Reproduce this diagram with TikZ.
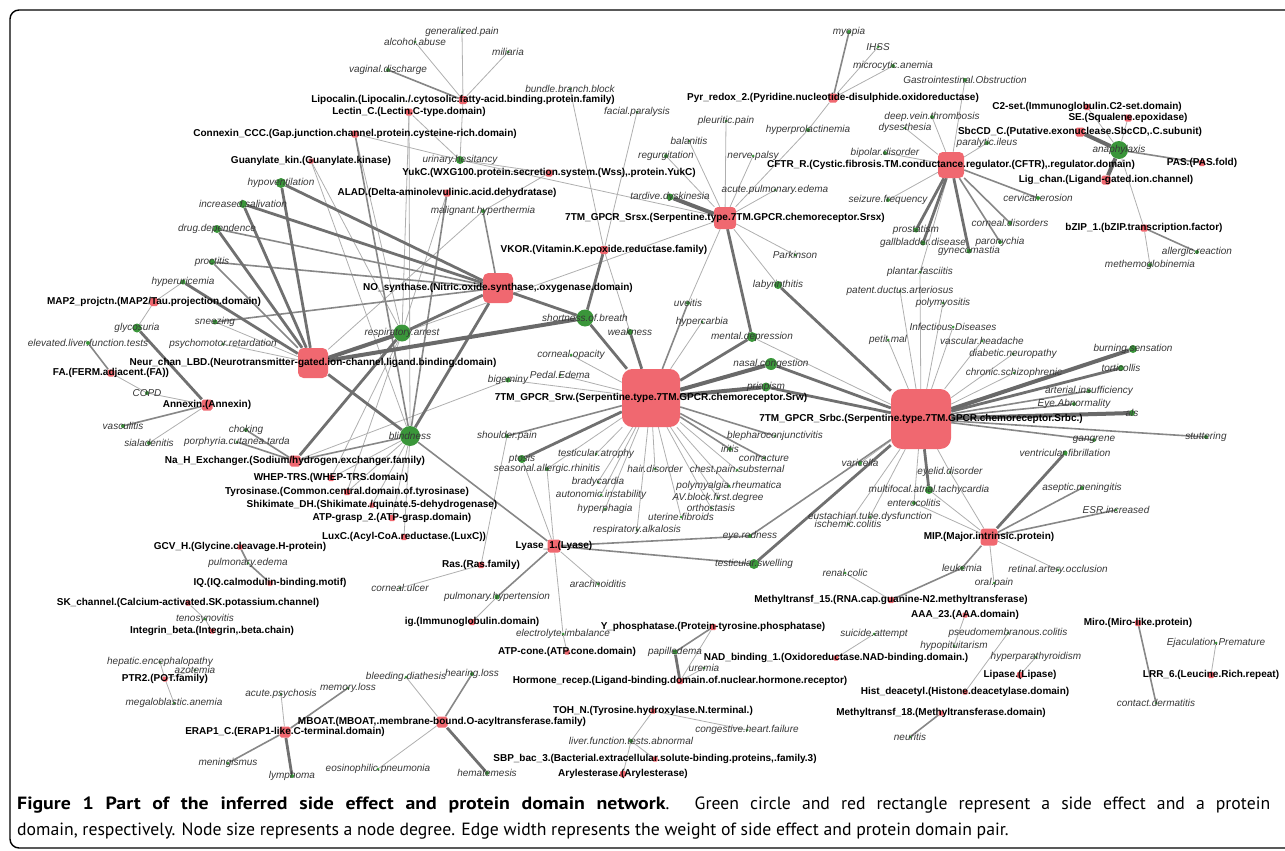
\documentclass[tikz,border=0pt]{standalone}
\usepackage{fontspec}
\setmainfont{Liberation Sans}
\newfontfamily\capfont{PT Sans}
\usetikzlibrary{backgrounds}
\definecolor{segreen}{RGB}{58,150,58}
\definecolor{pdred}{RGB}{240,104,112}
\definecolor{setext}{RGB}{55,55,55}
\definecolor{edgeA}{RGB}{175,175,175}
\definecolor{edgeB}{RGB}{135,135,135}
\definecolor{edgeC}{RGB}{112,112,112}
\definecolor{edgeD}{RGB}{105,105,105}

\begin{document}
\begin{tikzpicture}[x=1pt,y=-1pt,
    sel/.style={font=\fontsize{10}{12}\selectfont\itshape,text=setext,inner sep=0pt},
    pdl/.style={font=\fontsize{10}{12}\selectfont\bfseries,text=black,inner sep=0pt},
    sefx/.style 2 args={circle,fill=segreen,inner sep=0pt,minimum size=#1,label={[sel]center:#2}},
    prot/.style 2 args={rectangle,rounded corners=#1*0.18pt,fill=pdred,inner sep=0pt,minimum size=#1,label={[pdl]center:#2}},
    w1/.style={draw=edgeA,line width=0.8pt},
    w2/.style={draw=edgeB,line width=1.6pt},
    w3/.style={draw=edgeC,line width=2.8pt},
    w4/.style={draw=edgeD,line width=4pt}]
\useasboundingbox (0,0) rectangle (1285,851);
\draw[line width=1.4pt,rounded corners=9pt] (1300,10) -- (10,10) -- (10,848) -- (1300,848);

% protein domains
\node[prot={8}{Lipocalin.(Lipocalin./.cytosolic.fatty-acid.binding.protein.family)}] (lipo) at (463,100) {};
\node[prot={7}{Lectin\_C.(Lectin.C-type.domain)}] (lect) at (409,112) {};
\node[prot={7}{Connexin\_CCC.(Gap.junction.channel.protein.cysteine-rich.domain)}] (conx) at (355,134) {};
\node[prot={5}{Guanylate\_kin.(Guanylate.kinase)}] (guan) at (311,161) {};
\node[prot={7}{YukC.(WXG100.protein.secretion.system.(Wss),.protein.YukC)}] (yukc) at (549,173) {};
\node[prot={7}{ALAD.(Delta-aminolevulinic.acid.dehydratase)}] (alad) at (447,193) {};
\node[prot={22}{7TM\_GPCR\_Srsx.(Serpentine.type.7TM.GPCR.chemoreceptor.Srsx)}] (srsx) at (725,218) {};
\node[prot={8}{VKOR.(Vitamin.K.epoxide.reductase.family)}] (vkor) at (604,250) {};
\node[prot={9}{Pyr\_redox\_2.(Pyridine.nucleotide-disulphide.oxidoreductase)}] (pyr) at (833,98) {};
\node[prot={26}{CFTR\_R.(Cystic.fibrosis.TM.conductance.regulator.(CFTR),.regulator.domain)}] (cftr) at (951,165) {};
\node[prot={6}{C2-set.(Immunoglobulin.C2-set.domain)}] (c2set) at (1087,107) {};
\node[prot={7}{SE.(Squalene.epoxidase)}] (sqe) at (1128,118) {};
\node[prot={9}{SbcCD\_C.(Putative.exonuclease.SbcCD,.C.subunit)}] (sbcd) at (1080,132) {};
\node[prot={6}{PAS.(PAS.fold)}] (pas) at (1202,163) {};
\node[prot={9}{Lig\_chan.(Ligand-gated.ion.channel)}] (ligc) at (1106,180) {};
\node[prot={7}{bZIP\_1.(bZIP.transcription.factor)}] (bzip) at (1144,228) {};
\node[prot={30}{NO\_synthase.(Nitric.oxide.synthase,.oxygenase.domain)}] (nos) at (498,288) {};
\node[prot={8}{MAP2\_projctn.(MAP2/Tau.projection.domain)}] (map2) at (154,302) {};
\node[prot={30}{Neur\_chan\_LBD.(Neurotransmitter-gated.ion-channel.ligand.binding.domain)}] (neur) at (313,363) {};
\node[prot={7}{FA.(FERM.adjacent.(FA))}] (fa) at (111,373) {};
\node[prot={11}{Annexin.(Annexin)}] (anx) at (207,405) {};
\node[prot={11}{Na\_H\_Exchanger.(Sodium/hydrogen.exchanger.family)}] (nah) at (295,461) {};
\node[prot={6}{WHEP-TRS.(WHEP-TRS.domain)}] (whep) at (331,478) {};
\node[prot={6}{Tyrosinase.(Common.central.domain.of.tyrosinase)}] (tyr) at (347,492) {};
\node[prot={5}{Shikimate\_DH.(Shikimate./quinate.5-dehydrogenase)}] (shik) at (372,505) {};
\node[prot={6}{ATP-grasp\_2.(ATP-grasp.domain)}] (atpg) at (392,518) {};
\node[prot={6}{LuxC.(Acyl-CoA.reductase.(LuxC))}] (luxc) at (404,537) {};
\node[prot={5}{GCV\_H.(Glycine.cleavage.H-protein)}] (gcvh) at (240,547) {};
\node[prot={58}{7TM\_GPCR\_Srw.(Serpentine.type.7TM.GPCR.chemoreceptor.Srw)}] (srw) at (651,398) {};
\node[prot={60}{7TM\_GPCR\_Srbc.(Serpentine.type.7TM.GPCR.chemoreceptor.Srbc.)}] (srbc) at (921,419) {};
\node[prot={13}{Lyase\_1.(Lyase)}] (lyase) at (554,546) {};
\node[prot={17}{MIP.(Major.intrinsic.protein)}] (mip) at (989,537) {};
\node[prot={6}{Ras.(Ras.family)}] (ras) at (481,565) {};
\node[prot={5}{IQ.(IQ.calmodulin-binding.motif)}] (iq) at (270,583) {};
\node[prot={5}{SK\_channel.(Calcium-activated.SK.potassium.channel)}] (skc) at (188,603) {};
\node[prot={5}{Integrin\_beta.(Integrin,.beta.chain)}] (intb) at (212,631) {};
\node[prot={6}{ig.(Immunoglobulin.domain)}] (ig) at (472,622) {};
\node[prot={6}{Y\_phosphatase.(Protein-tyrosine.phosphatase)}] (yph) at (713,627) {};
\node[prot={5}{ATP-cone.(ATP.cone.domain)}] (atpc) at (567,652) {};
\node[prot={5}{NAD\_binding\_1.(Oxidoreductase.NAD-binding.domain.)}] (nad) at (836,658) {};
\node[prot={6}{Hormone\_recep.(Ligand-binding.domain.of.nuclear.hormone.receptor)}] (horm) at (680,681) {};
\node[prot={6}{Methyltransf\_15.(RNA.cap.guanine-N2.methyltransferase)}] (mtf15) at (891,600) {};
\node[prot={5}{AAA\_23.(AAA.domain)}] (aaa) at (965,615) {};
\node[prot={5}{PTR2.(POT.family)}] (ptr2) at (165,679) {};
\node[prot={11}{MBOAT.(MBOAT,.membrane-bound.O-acyltransferase.family)}] (mboat) at (442,722) {};
\node[prot={11}{ERAP1\_C.(ERAP1-like.C-terminal.domain)}] (erap) at (285,732) {};
\node[prot={5}{TOH\_N.(Tyrosine.hydroxylase.N.terminal.)}] (toh) at (653,711) {};
\node[prot={5}{SBP\_bac\_3.(Bacterial.extracellular.solute-binding.proteins,.family.3)}] (sbp) at (655,759) {};
\node[prot={6}{Arylesterase.(Arylesterase)}] (aryl) at (623,774) {};
\node[prot={5}{Hist\_deacetyl.(Histone.deacetylase.domain)}] (hist) at (965,692) {};
\node[prot={6}{Lipase.(Lipase)}] (lipa) at (1020,675) {};
\node[prot={5}{Methyltransf\_18.(Methyltransferase.domain)}] (mtf18) at (941,713) {};
\node[prot={6}{Miro.(Miro-like.protein)}] (miro) at (1138,623) {};
\node[prot={6}{LRR\_6.(Leucine.Rich.repeat)}] (lrr) at (1211,675) {};

% side effects
\node[sefx={3}{generalized.pain}] (gpain) at (462,32) {};
\node[sefx={3}{alcohol.abuse}] (alco) at (415,42) {};
\node[sefx={3}{miliaria}] (mili) at (508,52) {};
\node[sefx={4}{vaginal.discharge}] (vagd) at (388,70) {};
\node[sefx={3}{bundle.branch.block}] (bbb) at (570,89) {};
\node[sefx={3}{facial.paralysis}] (facp) at (637,112) {};
\node[sefx={8}{urinary.hesitancy}] (urin) at (460,160) {};
\node[sefx={4}{malignant.hyperthermia}] (malh) at (483,211) {};
\node[sefx={4}{myopia}] (myop) at (849,32) {};
\node[sefx={3}{IHSS}] (ihss) at (878,47) {};
\node[sefx={4}{microcytic.anemia}] (mcan) at (893,66) {};
\node[sefx={4}{Gastrointestinal.Obstruction}] (gio) at (965,80) {};
\node[sefx={3}{pleuritic.pain}] (pleu) at (726,121) {};
\node[sefx={4}{hyperprolactinemia}] (hprl) at (808,130) {};
\node[sefx={3}{balanitis}] (bala) at (689,141) {};
\node[sefx={4}{regurgitation}] (regu) at (666,156) {};
\node[sefx={3}{nerve.palsy}] (nerv) at (753,156) {};
\node[sefx={4}{deep.vein.thrombosis}] (dvt) at (932,117) {};
\node[sefx={3}{dysesthesia}] (dyse) at (905,128) {};
\node[sefx={4}{bipolar.disorder}] (bipo) at (885,153) {};
\node[sefx={3}{acute.pulmonary.edema}] (apule) at (775,190) {};
\node[sefx={7}{tardive.dyskinesia}] (tard) at (670,197) {};
\node[sefx={4}{seizure.frequency}] (seiz) at (888,200) {};
\node[sefx={3}{Parkinson}] (park) at (795,255) {};
\node[sefx={5}{prostatism}] (prost) at (916,230) {};
\node[sefx={5}{gallbladder.disease}] (gall) at (923,243) {};
\node[sefx={3}{plantar.fasciitis}] (plan) at (920,272) {};
\node[sefx={4}{paralytic.ileus}] (para) at (987,143) {};
\node[sefx={18}{anaphylaxis}] (anap) at (1119,150) {};
\node[sefx={4}{cervical.erosion}] (cerv) at (1038,198) {};
\node[sefx={4}{corneal.disorders}] (corn) at (1010,223) {};
\node[sefx={4}{paronychia}] (paro) at (1000,242) {};
\node[sefx={5}{gynecomastia}] (gyne) at (969,251) {};
\node[sefx={4}{allergic.reaction}] (allr) at (1197,252) {};
\node[sefx={4}{methemoglobinemia}] (meth) at (1150,265) {};
\node[sefx={10}{hypoventilation}] (hypv) at (281,183) {};
\node[sefx={8}{increased.salivation}] (sali) at (243,204) {};
\node[sefx={8}{drug.dependence}] (drug) at (217,229) {};
\node[sefx={6}{proctitis}] (proc) at (212,262) {};
\node[sefx={5}{hyperuricemia}] (huri) at (183,282) {};
\node[sefx={5}{sneezing}] (snee) at (215,322) {};
\node[sefx={9}{glycosuria}] (glyc) at (137,328) {};
\node[sefx={4}{elevated.liver.function.tests}] (elft) at (88,343) {};
\node[sefx={3}{psychomotor.retardation}] (psyr) at (223,344) {};
\node[sefx={4}{COPD}] (copd) at (147,393) {};
\node[sefx={4}{vasculitis}] (vasc) at (123,426) {};
\node[sefx={4}{choking}] (chok) at (246,430) {};
\node[sefx={4}{sialadenitis}] (sial) at (149,443) {};
\node[sefx={3}{porphyria.cutanea.tarda}] (porp) at (237,442) {};
\node[sefx={17}{respiratory.arrest}] (resp) at (402,333) {};
\node[sefx={17}{shortness.of.breath}] (sob) at (585,318) {};
\node[sefx={6}{weakness}] (weak) at (630,332) {};
\node[sefx={3}{corneal.opacity}] (copa) at (571,355) {};
\node[sefx={3}{Pedal.Edema}] (pede) at (560,375) {};
\node[sefx={5}{bigeminy}] (bige) at (508,380) {};
\node[sefx={20}{blindness}] (blind) at (410,436) {};
\node[sefx={4}{shoulder.pain}] (shou) at (507,436) {};
\node[sefx={8}{ptosis}] (ptos) at (522,459) {};
\node[sefx={4}{seasonal.allergic.rhinitis}] (sear) at (547,469) {};
\node[sefx={3}{testicular.atrophy}] (tatr) at (596,454) {};
\node[sefx={3}{hair.disorder}] (hair) at (655,469) {};
\node[sefx={3}{bradycardia}] (brad) at (598,482) {};
\node[sefx={3}{autonomic.instability}] (auto) at (601,495) {};
\node[sefx={3}{hyperphagia}] (hphg) at (605,509) {};
\node[sefx={3}{respiratory.alkalosis}] (ralk) at (637,530) {};
\node[sefx={3}{uterine.fibroids}] (ufib) at (681,517) {};
\node[sefx={8}{labyrinthitis}] (laby) at (778,285) {};
\node[sefx={3}{patent.ductus.arteriosus}] (pda) at (900,291) {};
\node[sefx={3}{polymyositis}] (poly) at (943,303) {};
\node[sefx={4}{uveitis}] (uvei) at (688,303) {};
\node[sefx={3}{hypercarbia}] (hcar) at (702,322) {};
\node[sefx={3}{Infectious.Diseases}] (infd) at (953,327) {};
\node[sefx={10}{mental.depression}] (ment) at (752,337) {};
\node[sefx={3}{petit.mal}] (petm) at (888,340) {};
\node[sefx={3}{vascular.headache}] (vhea) at (982,341) {};
\node[sefx={12}{nasal.congestion}] (nasc) at (771,364) {};
\node[sefx={9}{priapism}] (pria) at (766,387) {};
\node[sefx={3}{blepharoconjunctivitis}] (blep) at (775,436) {};
\node[sefx={4}{iritis}] (irit) at (730,449) {};
\node[sefx={3}{contracture}] (cont) at (764,458) {};
\node[sefx={3}{chest.pain.substernal}] (chps) at (737,470) {};
\node[sefx={3}{polymyalgia.rheumatica}] (pmr) at (729,486) {};
\node[sefx={3}{AV.block.first.degree}] (avb) at (718,498) {};
\node[sefx={3}{orthostasis}] (orth) at (711,508) {};
\node[sefx={4}{varicella}] (vari) at (860,463) {};
\node[sefx={3}{eyelid.disorder}] (eyel) at (950,472) {};
\node[sefx={8}{multifocal.atrial.tachycardia}] (mat) at (929,490) {};
\node[sefx={4}{enterocolitis}] (ente) at (914,503) {};
\node[sefx={3}{eustachian.tube.dysfunction}] (eust) at (870,517) {};
\node[sefx={3}{ischemic.colitis}] (isch) at (848,524) {};
\node[sefx={4}{eye.redness}] (eyer) at (750,536) {};
\node[sefx={8}{burning.sensation}] (burn) at (1133,349) {};
\node[sefx={6}{torticollis}] (tort) at (1121,368) {};
\node[sefx={3}{diabetic.neuropathy}] (dneu) at (1013,354) {};
\node[sefx={3}{chronic.schizophrenic}] (csch) at (1014,373) {};
\node[sefx={4}{arterial.insufficiency}] (arti) at (1089,391) {};
\node[sefx={4}{Eye.Abnormality}] (eyea) at (1074,404) {};
\node[sefx={6}{als}] (als) at (1132,413) {};
\node[sefx={4}{stuttering}] (stut) at (1206,437) {};
\node[sefx={4}{gangrene}] (gang) at (1094,440) {};
\node[sefx={5}{ventricular.fibrillation}] (vfib) at (1065,453) {};
\node[sefx={4}{aseptic.meningitis}] (asep) at (1082,488) {};
\node[sefx={3}{ESR.increased}] (esr) at (1116,510) {};
\node[sefx={10}{testicular.swelling}] (tswe) at (754,564) {};
\node[sefx={3}{renal.colic}] (renc) at (845,573) {};
\node[sefx={4}{leukemia}] (leuk) at (962,568) {};
\node[sefx={3}{oral.pain}] (oral) at (994,583) {};
\node[sefx={3}{retinal.artery.occlusion}] (reta) at (1058,570) {};
\node[sefx={3}{suicide.attempt}] (suic) at (874,634) {};
\node[sefx={3}{pseudomembranous.colitis}] (pseu) at (1008,633) {};
\node[sefx={3}{hypopituitarism}] (hypo) at (954,646) {};
\node[sefx={3}{hyperparathyroidism}] (hpth) at (1036,657) {};
\node[sefx={3}{neuritis}] (neuri) at (910,737) {};
\node[sefx={3}{Ejaculation.Premature}] (ejac) at (1216,643) {};
\node[sefx={3}{contact.dermatitis}] (cder) at (1156,703) {};
\node[sefx={3}{corneal.ulcer}] (coru) at (400,588) {};
\node[sefx={3}{arachnoiditis}] (arac) at (598,584) {};
\node[sefx={5}{pulmonary.hypertension}] (phyp) at (497,597) {};
\node[sefx={3}{electrolyte.imbalance}] (elec) at (563,634) {};
\node[sefx={5}{papilledema}] (pape) at (675,652) {};
\node[sefx={3}{uremia}] (urem) at (704,668) {};
\node[sefx={3}{bleeding.diathesis}] (blee) at (406,677) {};
\node[sefx={4}{hearing.loss}] (hear) at (472,674) {};
\node[sefx={3}{congestive.heart.failure}] (chf) at (747,730) {};
\node[sefx={4}{liver.function.tests.abnormal}] (lft) at (631,741) {};
\node[sefx={3}{eosinophilic.pneumonia}] (eosi) at (378,769) {};
\node[sefx={4}{hematemesis}] (hema) at (487,773) {};
\node[sefx={3}{pulmonary.edema}] (pedm) at (248,563) {};
\node[sefx={3}{tenosynovitis}] (teno) at (205,619) {};
\node[sefx={3}{hepatic.encephalopathy}] (hepe) at (160,662) {};
\node[sefx={3}{azotemia}] (azot) at (195,670) {};
\node[sefx={3}{megaloblastic.anemia}] (mega) at (174,703) {};
\node[sefx={3}{acute.psychosis}] (apsy) at (281,694) {};
\node[sefx={3}{memory.loss}] (meml) at (348,688) {};
\node[sefx={3}{meningismus}] (meni) at (228,763) {};
\node[sefx={4}{lymphoma}] (lymp) at (292,776) {};

% edges, by weight
\begin{pgfonlayer}{background}
\foreach \a/\b in {guan/blind, guan/resp, conx/urin, conx/resp, lect/blind, lect/resp, lect/urin,
    alad/resp, lipo/urin, lipo/gpain, lipo/alco, lipo/mili, yukc/urin, yukc/malh, neur/snee,
    neur/psyr, neur/malh, srsx/urin, srsx/pleu, srsx/bala, srsx/regu, srsx/nerv, srsx/hprl,
    srsx/apule, srsx/park, srsx/uvei, srsx/laby, srsx/resp, pyr/ihss, pyr/mcan, pyr/hprl,
    vkor/bbb, vkor/facp, vkor/weak, cftr/gio, cftr/dvt, cftr/dyse, cftr/bipo, cftr/seiz,
    cftr/para, cftr/plan, anap/c2set, anap/sqe, anap/bzip, bzip/meth, map2/huri, map2/glyc,
    anx/copd, anx/sial, fa/copd, whep/blind, tyr/blind, shik/blind, atpg/blind, luxc/blind,
    whep/resp, tyr/resp, nah/bige, skc/teno, intb/teno, ptr2/hepe, ptr2/azot, ptr2/mega,
    erap/apsy, mboat/blee, mboat/eosi, lyase/arac, lyase/elec, lyase/ptos, lyase/sear,
    ras/shou, ras/coru, ig/phyp, atpc/elec, yph/horm, horm/urem, toh/chf, toh/lft, sbp/lft,
    aryl/lft, srw/copa, srw/pede, srw/bige, srw/hcar, srw/chps, srw/pmr, srw/avb, srw/orth,
    srw/ufib, srw/ralk, srw/hphg, srw/auto, srw/brad, srw/hair, srw/tatr, srw/sear,
    srbc/plan, srbc/pda, srbc/poly, srbc/infd, srbc/petm, srbc/vhea, srbc/dneu, srbc/csch,
    srbc/ment, srbc/vari, srbc/eyel, srbc/ente, srbc/eust, srbc/isch, mip/oral, mip/reta,
    mip/eyel, mip/mat, mip/ente, mtf15/renc, aaa/hypo, nad/suic, hist/pseu, lipa/hpth, lrr/ejac}
  \draw[w1] (\a) -- (\b);
\foreach \a/\b in {neur/proc, nos/drug, nos/proc, nos/snee, nos/malh, nah/blind, nah/chok,
    nah/porp, conx/blind, alad/blind, lipo/vagd, pyr/myop, cftr/paro, cftr/corn, cftr/cerv,
    anap/pas, bzip/allr, anx/vasc, fa/elft, gcvh/pedm, iq/pedm, erap/meni, erap/meml,
    mboat/hear, lyase/phyp, lyase/blind, lyase/eyer, lyase/tswe, yph/pape, srw/uvei,
    srw/blep, srw/irit, srw/cont, srw/shou, srbc/arti, srbc/eyea, srbc/stut, srbc/gang,
    srbc/eyer, mip/asep, mip/esr, mip/leuk, mtf15/leuk, mtf18/neuri, miro/cder}
  \draw[w2] (\a) -- (\b);
\foreach \a/\b in {neur/hypv, neur/sali, neur/drug, neur/huri, neur/blind, nos/hypv, nos/sali,
    nos/resp, nos/sob, nos/blind, nah/resp, srsx/ment, cftr/prost, cftr/gall, cftr/gyne,
    anx/glyc, mboat/hema, erap/lymp, horm/pape, vkor/sob, srw/weak, srw/sob, srw/ment,
    srw/ptos, srbc/laby, srbc/tort, srbc/nasc, srbc/pria, srbc/mat, srbc/tswe, mip/vfib}
  \draw[w3] (\a) -- (\b);
\foreach \a/\b in {neur/resp, neur/sob, srsx/tard, anap/sbcd, anap/ligc, srw/nasc, srw/pria,
    srbc/burn, srbc/als}
  \draw[w4] (\a) -- (\b);
\end{pgfonlayer}

% caption
\node[anchor=base west,inner sep=0pt,font=\capfont\fontsize{17.7}{21}\selectfont] (capa) at (17,809)
  {\makebox[1253pt][s]{\textbf{\addfontfeature{FakeStretch=1.12}Figure 1 Part of the inferred side effect and protein domain network}. Green circle and red rectangle represent a side effect and a protein}};
\node[anchor=base west,inner sep=0pt,font=\capfont\fontsize{17.7}{21}\selectfont] (capb) at (17,835)
  {domain, respectively. Node size represents a node degree. Edge width represents the weight of side effect and protein domain pair.};
\end{tikzpicture}
\end{document}
